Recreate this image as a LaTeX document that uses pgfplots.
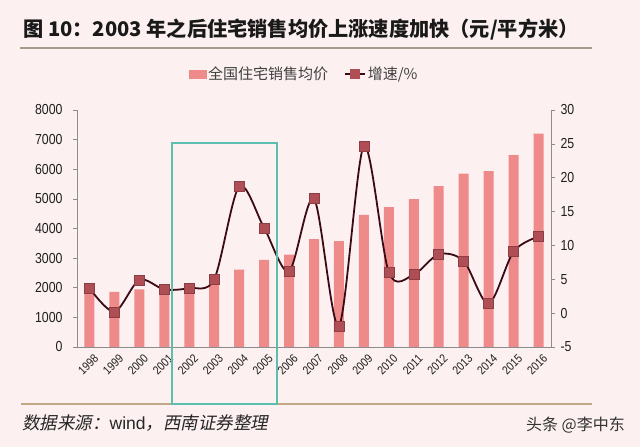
\documentclass[border=0pt]{standalone}
\usepackage{fontspec}
\usepackage{pgfplots}
\pgfplotsset{compat=1.18}
\setmainfont{Liberation Sans}
\newfontfamily\cjk{Noto Sans CJK SC}
\newfontfamily\cjkit[FakeSlant=0.2]{Noto Sans CJK SC}
\newfontfamily\narrow[FakeStretch=0.85]{Liberation Sans}
\definecolor{bgcol}{HTML}{FCF0F0}
\definecolor{barcol}{HTML}{EF8A8A}
\definecolor{markcol}{HTML}{B04E55}
\definecolor{linecol}{HTML}{3B0A14}
\definecolor{tealcol}{HTML}{5CBFAE}
\definecolor{axcol}{HTML}{8C8C8C}
\definecolor{rulecol}{HTML}{A89A8C}
\definecolor{rule2col}{HTML}{BFA883}

\pgfplotstableread{
idx price growth
0 1854 3.7
1 1857 0.2
2 1948 4.9
3 2017 3.5
4 2092 3.7
5 2197 5.0
6 2608 18.7
7 2937 12.6
8 3119 6.2
9 3645 16.9
10 3576 -1.9
11 4459 24.7
12 4725 6.0
13 4993 5.7
14 5430 8.7
15 5850 7.7
16 5933 1.4
17 6473 9.1
18 7203 11.3
}\datatable

\begin{document}
\begin{tikzpicture}
\fill[bgcol] (0pt,0pt) rectangle (640pt,447pt);
\path[use as bounding box] (0pt,0pt) rectangle (640pt,447pt);
% title
\node[anchor=west, inner sep=0, font=\cjk\bfseries\fontsize{20.2}{22}\selectfont, text=black!90] at (23pt,417pt) {图 10：2003 年之后住宅销售均价上涨速度加快（元/平方米）};
\draw[rulecol, line width=1.5pt] (20pt,399pt) -- (592pt,399pt);
\draw[rule2col, line width=2.5pt] (21pt,43pt) -- (592pt,43pt);
% source
\node[anchor=west, inner sep=0, text=black!85] at (22pt,24pt) {{\cjkit\fontsize{17.5}{18}\selectfont 数据来源：}{\fontsize{17.5}{18}\selectfont wind}{\cjkit\fontsize{17.5}{18}\selectfont ，西南证券整理}};
\node[anchor=east, inner sep=0, font=\cjk\fontsize{16}{16}\selectfont, text=black!80] at (625pt,22pt) {头条 @李中东};

\pgfplotsset{
  base/.style={
    at={(77pt,100pt)}, anchor=south west, scale only axis,
    width=474pt, height=237pt,
    xmin=-0.5, xmax=18.5,
    axis line style={axcol, line width=0.6pt},
    tick style={axcol, line width=0.6pt},
    tick align=outside,
    major tick length=4pt, minor tick length=4pt,
    /pgf/number format/assume math mode=true,
    /pgf/number format/1000 sep={},
  }
}
\begin{axis}[base,
  ymin=0, ymax=8000, ytick={0,1000,...,8000},
  axis y line*=left, axis x line*=bottom,
  yticklabel style={font=\narrow\fontsize{14.5}{14.5}\selectfont, text=black!88, xshift=-7pt},
  xtick={0,...,18},
  xticklabels={1998,1999,2000,2001,2002,2003,2004,2005,2006,2007,2008,2009,2010,2011,2012,2013,2014,2015,2016},
  xtick style={draw=none},
  minor xtick={-0.5,0.5,...,18.5},
  xticklabel style={rotate=45, anchor=east, font=\narrow\fontsize{12}{12}\selectfont, text=black!88, xshift=4pt, yshift=-9pt},
]
\addplot[ybar, bar width=10pt, fill=barcol, draw=none] table[x=idx, y=price] {\datatable};
\end{axis}
\begin{axis}[base,
  ymin=-5, ymax=30, ytick={-5,0,...,30},
  axis y line*=right, axis x line=none,
  yticklabel style={font=\narrow\fontsize{14.5}{14.5}\selectfont, text=black!88, xshift=2pt},
  legend style={at={(0.479,1.152)}, anchor=center, legend columns=2, draw=none, fill=none,
    font=\cjk\fontsize{15}{16}\selectfont, text=black!75,
    /tikz/every even column/.append style={column sep=14pt}},
]
\addlegendimage{legend image code/.code={\fill[barcol] (0pt,-4pt) rectangle (17pt,4pt);}}
\addlegendentry{全国住宅销售均价}
\addplot[linecol, line width=1.8pt, smooth, mark=square*, mark size=5pt,
  mark options={fill=markcol, draw=markcol!80!black, line width=0.5pt},
  legend image code/.code={\draw[linecol, line width=1.8pt] (0pt,0pt) -- (20pt,0pt);
    \fill[markcol] (6pt,-4pt) rectangle (14pt,4pt);}]
  table[x=idx, y=growth] {\datatable};
\addlegendentry{增速/\%}
\end{axis}
\draw[tealcol, line width=2.2pt] (172pt,304pt) rectangle (277pt,43pt);
\end{tikzpicture}
\end{document}
